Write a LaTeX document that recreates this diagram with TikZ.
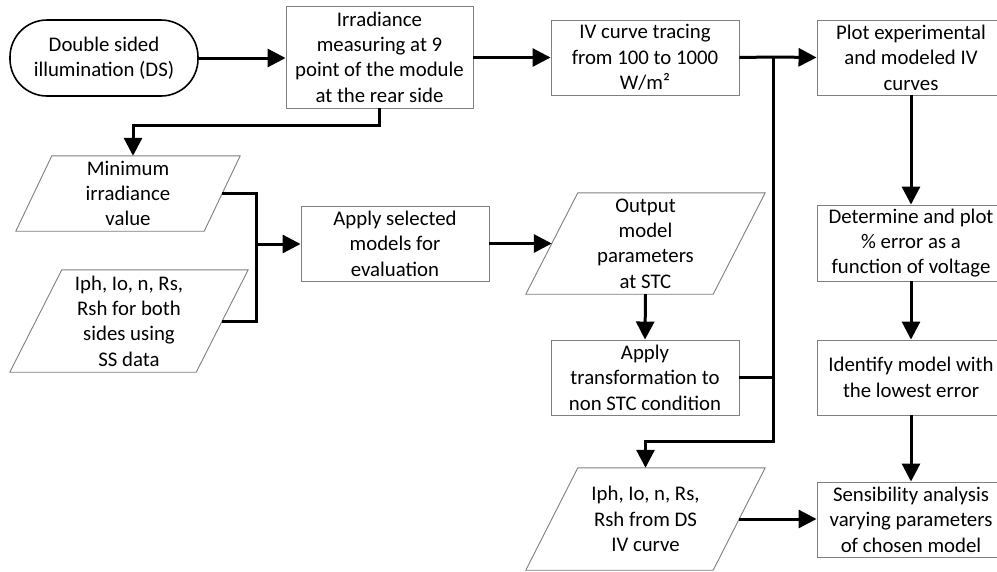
\documentclass[tikz,border=0pt]{standalone}
\usepackage{fontspec}
\setmainfont{Carlito}
\usetikzlibrary{arrows.meta,calc}
\definecolor{boxgray}{HTML}{7F7F7F}
\begin{document}
\begin{tikzpicture}[x=1pt,y=-1pt,
  txt/.style={font=\fontsize{20.8}{25.4}\selectfont, align=center, inner sep=0pt},
  box/.style={txt, draw=boxgray, line width=0.9pt},
  para/.style={txt},
  paraline/.style={draw=boxgray, line width=0.9pt},
  conn/.style={line width=3pt},
  arr/.style={conn, -{Triangle[length=18pt,width=18pt]}}]
\clip (0,0) rectangle (997,571);
\fill[white] (0,0) rectangle (997,571);

% terminal
\node[txt, draw=black, line width=1.6pt, rounded corners=37pt, minimum width=188pt, minimum height=76pt] (ds) at (104,58) {Double sided\\illumination (DS)};
% process boxes
\node[box, minimum width=187pt, minimum height=102pt] (irr) at (379.5,57) {Irradiance\\measuring at 9\\point of the module\\at the rear side};
\node[box, minimum width=188pt, minimum height=75pt] (iv) at (645,57.5) {IV curve tracing\\from 100 to 1000\\W/m²};
\node[box, minimum width=188pt, minimum height=75pt] (plot) at (911,57.5) {Plot experimental\\and modeled IV\\curves};
\node[box, minimum width=188pt, minimum height=75pt] (apply) at (395,243.5) {Apply selected\\models for\\evaluation};
\node[box, minimum width=188pt, minimum height=75pt] (tr) at (645,377.5) {Apply\\transformation to\\non STC condition};
\node[box, minimum width=188pt, minimum height=76pt] (det) at (911,243) {Determine and plot\\\% error as a\\function of voltage};
\node[box, minimum width=188pt, minimum height=75pt] (id) at (911,377.5) {Identify model with\\the lowest error};
\node[box, minimum width=188pt, minimum height=75pt] (sens) at (911,519.5) {Sensibility analysis\\varying parameters\\of chosen model};

% parallelograms (text nodes with bounding size, outline drawn below)
\node[para, minimum width=224pt, minimum height=75pt] (min) at (128,193.5) {Minimum\\irradiance\\value};
\node[para, minimum width=238pt, minimum height=102pt] (ss) at (129,321) {Iph, Io, n, Rs,\\Rsh for both\\sides using\\SS data};
\node[para, minimum width=239pt, minimum height=101pt] (out) at (645.5,243.5) {Output\\model\\parameters\\at STC};
\node[para, minimum width=239pt, minimum height=102pt] (dsp) at (645.5,519) {Iph, Io, n, Rs,\\Rsh from DS\\IV curve};

\foreach \n/\s in {min/36, ss/52, out/52, dsp/52}{
  \draw[paraline] ($(\n.north west)+(\s,0)$) -- (\n.north east) -- ($(\n.south east)+(-\s,0)$) -- (\n.south west) -- cycle;
}

% junction coordinates
\coordinate (j1) at (773,57);
\coordinate (j2) at (773,441);
\coordinate (jm) at (256,244);
\coordinate (minR) at ($(min.east)+(-18,0)$);
\coordinate (ssR) at ($(ss.east)+(-26,0)$);
\coordinate (outL) at ($(out.west)+(26,0)$);
\coordinate (dspR) at ($(dsp.east)+(-26,0)$);
\coordinate (minT) at (min.north -| 133,0);

% connectors
\draw[arr] (ds.east) -- (ds.east -| irr.west);
\draw[arr] (irr.east |- iv.west) -- (iv.west);
\draw[conn] (iv.east) -- (j1);
\draw[arr] (j1) -- (plot.west);
\draw[arr] (irr.south) -- ++(0,17) -| (minT);
\draw[conn] (minR) -| (jm) |- (ssR);
\draw[arr] (jm) -- (apply.west |- jm);
\draw[arr] (apply.east) -- (outL);
\draw[arr] (out.south) -- (tr.north);
\draw[conn] (tr.east) -- (tr.east -| j1);
\draw[conn, line cap=rect] (j1) -- (j2);
\draw[arr] (j2) -| (dsp.north);
\draw[arr] (plot.south) -- (det.north);
\draw[arr] (det.south) -- (id.north);
\draw[arr] (id.south) -- (sens.north);
\draw[arr] (dspR) -- (sens.west |- dspR);
\end{tikzpicture}
\end{document}
